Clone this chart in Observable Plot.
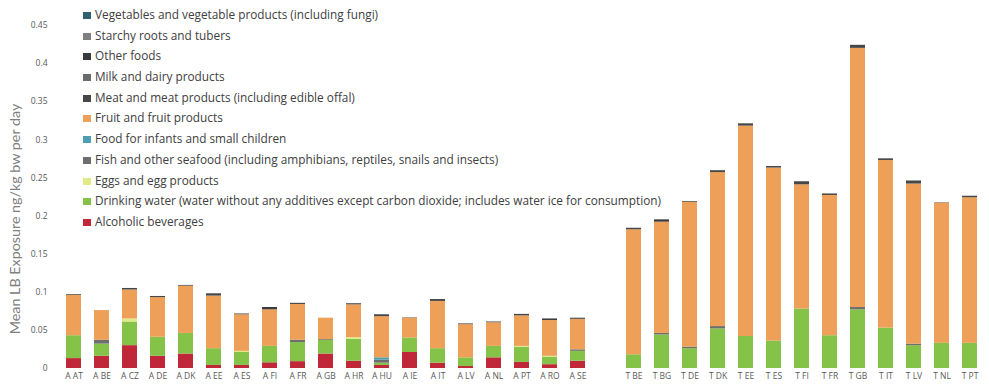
<!DOCTYPE html>
<html>
<head>
<meta charset="utf-8">
<script src="https://cdn.jsdelivr.net/npm/d3@7"></script>
<script src="https://cdn.jsdelivr.net/npm/@observablehq/plot@0.6"></script>
<style>
  body { margin: 0; background: #fff; }
  #chart { position: relative; width: 989px; height: 388px; }
  #legend { position: absolute; left: 83px; top: 4px; font: 11.8px "Open Sans", sans-serif; color: #404040; }
  #legend div { height: 20.7px; line-height: 20.7px; white-space: nowrap; }
  #legend span { display: inline-block; width: 8px; height: 7px; margin-right: 4px; vertical-align: 0px; }
</style>
</head>
<body>
<div id="chart"><div id="legend"></div></div>
<script>
// Population/country groups: adults (A) then toddlers (T); " " is the empty slot between them
const groups = [
  "A AT", "A BE", "A CZ", "A DE", "A DK", "A EE", "A ES", "A FI", "A FR", "A GB",
  "A HR", "A HU", "A IE", "A IT", "A LV", "A NL", "A PT", "A RO", "A SE",
  " ",
  "T BE", "T BG", "T DE", "T DK", "T EE", "T ES", "T FI", "T FR", "T GB",
  "T IT", "T LV", "T NL", "T PT"
];

// Food categories, bottom of the stack first
const foods = [
  "Alcoholic beverages",
  "Drinking water (water without any additives except carbon dioxide; includes water ice for consumption)",
  "Eggs and egg products",
  "Fish and other seafood (including amphibians, reptiles, snails and insects)",
  "Food for infants and small children",
  "Fruit and fruit products",
  "Meat and meat products (including edible offal)",
  "Milk and dairy products",
  "Other foods",
  "Starchy roots and tubers",
  "Vegetables and vegetable products (including fungi)"
];
const colors = [
  "#c0283a", "#84c248", "#e2ea86", "#6e6e6e", "#4b9fb0", "#ee9f58",
  "#474747", "#6b6b6b", "#3a3a3a", "#7f7f7f", "#2f6170"
];

// Mean LB exposure (ng/kg bw per day), one value per group (empty slot excluded)
const alcohol  = [0.013, 0.016, 0.030, 0.016, 0.019, 0.004, 0.004, 0.0075, 0.009, 0.019, 0.0095, 0.004, 0.021, 0.007, 0.0026, 0.014, 0.008, 0.005, 0.0095,
                  0, 0, 0, 0, 0, 0, 0, 0, 0, 0, 0, 0, 0];
const water    = [0.030, 0.016, 0.031, 0.025, 0.027, 0.022, 0.017, 0.0215, 0.025, 0.018, 0.029, 0.003, 0.019, 0.019, 0.0114, 0.015, 0.020, 0.010, 0.013,
                  0.018, 0.044, 0.026, 0.052, 0.042, 0.036, 0.078, 0.043, 0.077, 0.053, 0.030, 0.033, 0.033];
const eggs     = [0, 0, 0.004, 0, 0, 0, 0.0015, 0, 0, 0, 0.002, 0, 0, 0, 0, 0, 0.001, 0.001, 0,
                  0, 0, 0, 0, 0, 0, 0, 0, 0, 0, 0, 0, 0];
const fish     = [0, 0.005, 0, 0, 0, 0, 0, 0, 0.003, 0.001, 0, 0.004, 0, 0, 0, 0, 0, 0, 0.002,
                  0, 0.002, 0.002, 0.003, 0, 0, 0, 0, 0.003, 0, 0.002, 0, 0];
const infants  = [0, 0, 0, 0, 0, 0, 0, 0, 0, 0, 0, 0.003, 0, 0, 0, 0, 0, 0, 0,
                  0, 0, 0, 0, 0, 0, 0, 0, 0, 0, 0, 0, 0];
const fruit    = [0.053, 0.039, 0.038, 0.052, 0.062, 0.069, 0.048, 0.048, 0.047, 0.028, 0.043, 0.054, 0.026, 0.062, 0.0435, 0.031, 0.040, 0.047, 0.040,
                  0.164, 0.146, 0.190, 0.202, 0.276, 0.227, 0.163, 0.184, 0.340, 0.220, 0.210, 0.184, 0.191];
const meat     = [0.001, 0, 0.002, 0.0015, 0.001, 0.003, 0.001, 0, 0.0015, 0, 0.0015, 0.0025, 0.0005, 0.0025, 0.001, 0.001, 0.002, 0, 0.0015,
                  0.002, 0, 0.001, 0.0025, 0.003, 0.002, 0.004, 0.002, 0.004, 0, 0.004, 0.0005, 0.002];
const milk     = [0, 0, 0, 0, 0, 0, 0, 0, 0, 0, 0, 0, 0, 0, 0, 0, 0, 0, 0,
                  0, 0, 0, 0, 0, 0, 0, 0, 0, 0, 0, 0, 0];
const other    = [0, 0, 0, 0, 0, 0, 0, 0.003, 0, 0, 0, 0, 0, 0, 0, 0, 0, 0.002, 0,
                  0, 0.003, 0, 0, 0, 0, 0, 0, 0, 0.002, 0, 0, 0];
const starchy  = [0, 0, 0, 0, 0, 0, 0, 0, 0, 0, 0, 0, 0, 0, 0, 0, 0, 0, 0,
                  0, 0, 0, 0, 0, 0, 0, 0, 0, 0, 0, 0, 0];
const veg      = [0, 0, 0, 0, 0, 0, 0, 0, 0, 0, 0, 0, 0, 0, 0, 0, 0, 0, 0,
                  0, 0, 0, 0, 0, 0, 0, 0, 0, 0, 0, 0, 0];

const yTicks = [0, 0.05, 0.1, 0.15, 0.2, 0.25, 0.3, 0.35, 0.4, 0.45];
const yTitle = "Mean LB Exposure ng/kg bw per day";

const series = [alcohol, water, eggs, fish, infants, fruit, meat, milk, other, starchy, veg];
const barGroups = groups.filter(g => g.trim() !== "");
const rows = [];
barGroups.forEach((g, i) => {
  series.forEach((s, k) => rows.push({group: g, food: foods[k], value: s[i]}));
});

const chart = Plot.plot({
  width: 989,
  height: 388,
  marginLeft: 55,
  marginRight: 2,
  marginTop: 25,
  marginBottom: 20,
  style: {fontFamily: "'Open Sans', sans-serif", color: "#595959", background: "#fff"},
  x: {domain: groups, paddingInner: 0.47, paddingOuter: 0.3, axis: null},
  y: {domain: [0, 0.45], axis: null},
  color: {domain: foods, range: colors},
  marks: [
    Plot.barY(rows, {x: "group", y: "value", fill: "food"}),
    Plot.axisX({tickSize: 0, tickPadding: 4, fontSize: 8.5, tickFormat: d => d.trim(), label: null}),
    Plot.axisY({ticks: yTicks, tickSize: 0, tickPadding: 8, fontSize: 8.5,
                tickFormat: d => String(+d.toFixed(2)), label: null}),
    Plot.text([yTitle], {frameAnchor: "left", textAnchor: "middle", rotate: -90, dx: -40, dy: 22,
                         fontSize: 14.3, fontFamily: "Lato, sans-serif", fill: "#808080", text: d => d})
  ]
});
document.getElementById("chart").prepend(chart);

// Legend, top of the stack first
const legend = d3.select("#legend");
foods.slice().reverse().forEach((f, j) => {
  const k = foods.length - 1 - j;
  const row = legend.append("div");
  row.append("span").style("background", colors[k]);
  row.append("text").text(f);
});
</script>
</body>
</html>
